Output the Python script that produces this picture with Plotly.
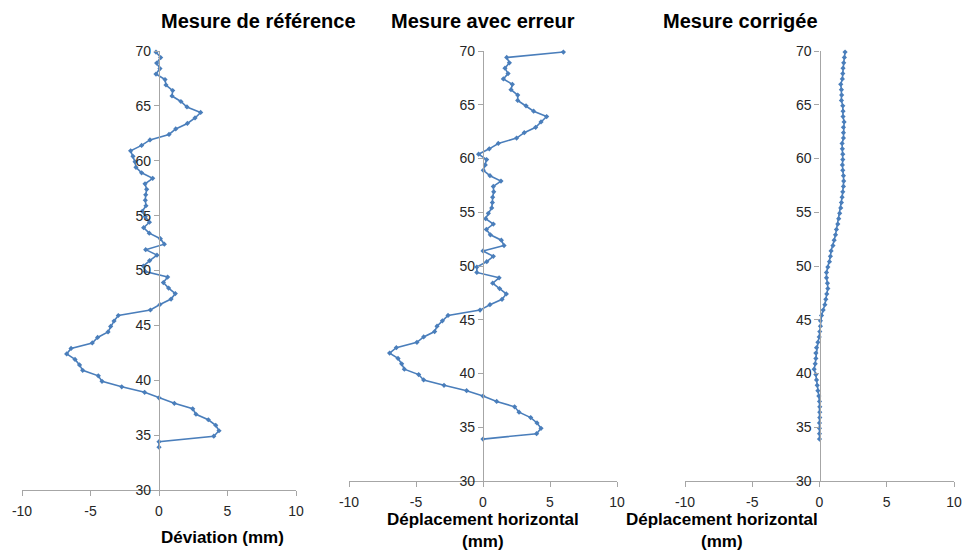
import plotly.graph_objs as go

# profondeur (m), commune aux trois mesures
profondeur = [33.9, 34.4, 34.9, 35.4, 35.9, 36.4, 36.9, 37.4, 37.9, 38.4,
              38.9, 39.4, 39.9, 40.4, 40.9, 41.4, 41.9, 42.4, 42.9, 43.4,
              43.9, 44.4, 44.9, 45.4, 45.9, 46.4, 46.9, 47.4, 47.9, 48.4,
              48.9, 49.4, 49.9, 50.4, 50.9, 51.4, 51.9, 52.4, 52.9, 53.4,
              53.9, 54.4, 54.9, 55.4, 55.9, 56.4, 56.9, 57.4, 57.9, 58.4,
              58.9, 59.4, 59.9, 60.4, 60.9, 61.4, 61.9, 62.4, 62.9, 63.4,
              63.9, 64.4, 64.9, 65.4, 65.9, 66.4, 66.9, 67.4, 67.9, 68.4,
              68.9, 69.4, 69.9]

reference = [0, 0, 4.0, 4.38, 4.14, 3.6, 2.7, 2.46, 1.12, 0,
             -1.05, -2.72, -4.16, -4.43, -5.57, -5.8, -6.13, -6.74, -6.42, -4.87,
             -4.48, -3.72, -3.53, -3.28, -2.97, -0.63, 0.07, 0.88, 1.19, 0.7,
             0.32, 0.63, -1.0, -1.14, -0.68, -0.15, -0.97, 0.39, 0.1, -0.71,
             -1.12, -0.7, -1.0, -1.22, -0.95, -1.0, -0.97, -0.9, -1.02, -0.46,
             -1.27, -1.68, -1.75, -1.9, -2.07, -1.27, -0.66, 0.73, 1.22, 2.07,
             2.63, 3.04, 2.04, 1.6, 0.95, 1.0, 0.51, 0.44, -0.22, 0.07,
             -0.17, 0.12, -0.22]

erreur = [0, 4.0, 4.33, 4.03, 3.56, 2.69, 2.36, 1.02, 0, -1.22,
          -2.91, -4.43, -4.8, -5.87, -6.07, -6.34, -6.97, -6.47, -4.93, -4.43,
          -3.61, -3.43, -3.03, -2.61, -0.22, 0.52, 1.42, 1.74, 1.24, 0.72,
          1.2, -0.46, -0.46, 0.28, 0.77, 0, 1.57, 1.37, 0.55, 0.25,
          0.77, 0.2, 0.4, 0.65, 0.7, 0.72, 0.8, 0.77, 1.34, 0.52,
          0.02, 0.17, 0.27, -0.33, 0.47, 1.14, 2.51, 3.08, 3.93, 4.33,
          4.75, 3.78, 3.21, 2.59, 2.59, 2.09, 2.19, 1.52, 1.87, 1.64,
          1.97, 1.77, 6.0]

corrigee = [0, 0, 0, 0, 0.02, 0.02, 0.02, 0, -0.05, -0.12,
            -0.17, -0.22, -0.27, -0.4, -0.32, -0.27, -0.27, -0.22, -0.12, -0.02,
            0.02, 0.07, 0.07, 0.15, 0.27, 0.4, 0.47, 0.54, 0.62, 0.59,
            0.52, 0.52, 0.62, 0.74, 0.81, 0.86, 1.0, 1.09, 1.19, 1.26,
            1.36, 1.43, 1.5, 1.58, 1.63, 1.68, 1.73, 1.78, 1.8, 1.78,
            1.73, 1.7, 1.73, 1.73, 1.7, 1.68, 1.78, 1.78, 1.78, 1.83,
            1.75, 1.75, 1.73, 1.63, 1.65, 1.63, 1.58, 1.7, 1.73, 1.75,
            1.8, 1.85, 1.9]

titres = ["Mesure de référence", "Mesure avec erreur", "Mesure corrigée"]
titres_x = ["Déviation (mm)", "Déplacement horizontal<br>(mm)", "Déplacement horizontal<br>(mm)"]
x_ticks = [-10, -5, 0, 5, 10]
x_labels = ["-10", "-5", "0", "5", "10"]
y_ticks = [30, 35, 40, 45, 50, 55, 60, 65, 70]

W, H = 962, 552
ML, MR, MT, MB = 20, 5, 30, 30  # marges fixes, domaines calculés dans la zone de tracé
PW, PH = W - ML - MR, H - MT - MB
bleu = "#4a7ebb"
gris = "#a6a6a6"
police = "Liberation Sans, Arial, sans-serif"


def px_x(px):
    return (px - ML) / PW


def px_y(py):
    return 1 - (py - MT) / PH


# position des panneaux en pixels : (gauche, droite, bas de l'axe)
panneaux = [(22, 296, 490), (349, 617, 481), (685, 954, 481)]
series = [reference, erreur, corrigee]

fig = go.Figure()
layout = dict(width=W, height=H, margin=dict(l=ML, r=MR, t=MT, b=MB, autoexpand=False),
              paper_bgcolor="white", plot_bgcolor="white", showlegend=False,
              font=dict(family=police, size=14, color="#262626"))
annotations = []

for i, (g, d, bas) in enumerate(panneaux):
    n = "" if i == 0 else str(i + 1)
    fig.add_trace(go.Scatter(x=series[i], y=profondeur, mode="lines+markers",
                             line=dict(color=bleu, width=1.6),
                             marker=dict(symbol="diamond", size=4, color=bleu),
                             xaxis="x" + n, yaxis="y" + n, cliponaxis=False))
    centre = px_x((g + d) / 2)
    layout["xaxis" + n] = dict(domain=[px_x(g), px_x(d)], range=[-10, 10], anchor="y" + n,
                               tickvals=x_ticks, ticktext=x_labels, automargin=False,
                               ticklabeloverflow="allow",
                               showline=True, linecolor=gris, linewidth=1.3,
                               ticks="outside", ticklen=5, tickcolor=gris, showgrid=False,
                               zeroline=False, ticklabelstandoff=3,
                               tickfont=dict(size=14, color="#262626"))
    layout["yaxis" + n] = dict(domain=[px_y(bas), px_y(51)], range=[30, 70],
                               anchor="free", position=centre, automargin=False,
                               tickvals=y_ticks, showline=True, linecolor=gris, linewidth=1.3,
                               ticks="outside", ticklen=5, tickcolor=gris, showgrid=False,
                               zeroline=False, tickfont=dict(size=14, color="#262626"))
    annotations.append(dict(text="<b>" + titres[i] + "</b>", x=centre, y=px_y(21),
                            xref="paper", yref="paper", showarrow=False, yanchor="middle",
                            font=dict(size=20, color="#000000")))
    if i == 0:
        annotations.append(dict(text="<b>" + titres_x[i] + "</b>", x=centre, y=px_y(537),
                                xref="paper", yref="paper", showarrow=False, yanchor="middle",
                                font=dict(size=17, color="#000000")))
    else:
        annotations.append(dict(text="<b>" + titres_x[i] + "</b>", x=centre, y=px_y(530),
                                xref="paper", yref="paper", showarrow=False, yanchor="middle",
                                font=dict(size=17, color="#000000")))

layout["annotations"] = annotations
fig.update_layout(**layout)
# la page a une marge de 8 px par défaut : on la retire
fig.write_html("out.html", config={"displayModeBar": False},
               post_script="document.body.style.margin = '0px';")
